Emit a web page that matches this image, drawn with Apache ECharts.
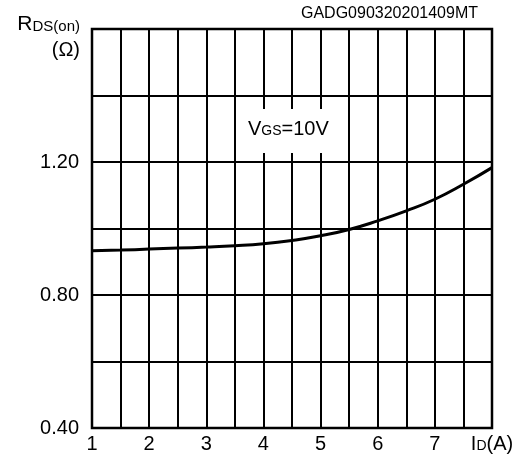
<!DOCTYPE html>
<html>
<head>
<meta charset="utf-8">
<script src="https://cdn.jsdelivr.net/npm/echarts@6/dist/echarts.min.js"></script>
<style>
html,body{margin:0;padding:0;background:#fff;}
#main{width:528px;height:458px;}
</style>
</head>
<body>
<div id="main"></div>
<script>
// ID (A)
var idValues = [1, 1.5, 2, 2.5, 3, 3.5, 4, 4.5, 5, 5.5, 6, 6.5, 7, 7.5, 8];
// RDS(on) (ohm)
var rdsValues = [0.933, 0.935, 0.938, 0.941, 0.944, 0.948, 0.954, 0.964, 0.978, 0.997, 1.023, 1.053, 1.088, 1.133, 1.183];
var xLabels = ['1', '2', '3', '4', '5', '6', '7'];
var yLabels = ['0.40', '0.80', '1.20'];

var font = 'Liberation Sans, Arial, sans-serif';
var chart = echarts.init(document.getElementById('main'));

var points = [];
for (var i = 0; i < idValues.length; i++) {
	points.push([idValues[i], rdsValues[i]]);
}

chart.setOption({
	animation: false,
	grid: {
		left: 92, top: 29, right: 36, bottom: 30,
		show: true, borderColor: '#000', borderWidth: 2.5, backgroundColor: 'transparent'
	},
	xAxis: {
		type: 'value', min: 1, max: 8, interval: 0.5,
		axisLine: {show: false},
		axisTick: {show: false},
		splitLine: {show: true, lineStyle: {color: '#000', width: 2}},
		axisLabel: {
			color: '#000', fontFamily: font, fontSize: 20, margin: 6,
			showMinLabel: true, showMaxLabel: true,
			formatter: function (v) {
				if (Math.abs(v - 8) < 1e-6) return '{b|I}{s|D}{b|(A)}';
				for (var k = 0; k < xLabels.length; k++) {
					if (Math.abs(v - Number(xLabels[k])) < 1e-6) return xLabels[k];
				}
				return '';
			},
			rich: {
				b: {fontSize: 20, fontFamily: font, color: '#000', verticalAlign: 'bottom'},
				s: {fontSize: 14, fontFamily: font, color: '#000', verticalAlign: 'bottom', padding: [0, 0, 1, 0]}
			}
		}
	},
	yAxis: {
		type: 'value', min: 0.4, max: 1.6, interval: 0.2,
		axisLine: {show: false},
		axisTick: {show: false},
		splitLine: {show: true, lineStyle: {color: '#000', width: 2}},
		axisLabel: {
			color: '#000', fontFamily: font, fontSize: 20, margin: 13,
			formatter: function (v) {
				for (var k = 0; k < yLabels.length; k++) {
					if (Math.abs(v - Number(yLabels[k])) < 1e-6) return yLabels[k];
				}
				return '';
			}
		}
	},
	graphic: [
		{type: 'rect', z: 50, shape: {x: 237, y: 109, width: 111, height: 44}, style: {fill: '#fff'}},
		{type: 'text', z: 51, left: 248, top: 119, style: {
			rich: {
				b: {fontSize: 20, fontFamily: font, fill: '#000', verticalAlign: 'bottom'},
				s: {fontSize: 14, fontFamily: font, fill: '#000', verticalAlign: 'bottom', padding: [0, 0, 1, 0]}
			},
			text: '{b|V}{s|GS}{b|=10V}'
		}},
		{type: 'text', z: 51, right: 448, top: 14, style: {
			rich: {
				b: {fontSize: 21, fontFamily: font, fill: '#000', verticalAlign: 'bottom'},
				s: {fontSize: 15, fontFamily: font, fill: '#000', verticalAlign: 'bottom', padding: [0, 0, 1, 0]}
			},
			text: '{b|R}{s|DS(on)}'
		}},
		{type: 'text', z: 51, right: 448, top: 40, style: {
			text: '(Ω)', fontSize: 20, fontFamily: font, fill: '#000'
		}},
		{type: 'text', z: 51, left: 301, top: 6, style: {
			text: 'GADG090320201409MT', fontSize: 16, fontFamily: font, fill: '#000'
		}}
	],
	series: [{
		type: 'line', data: points, smooth: true, symbol: 'none', z: 60,
		lineStyle: {color: '#000', width: 3}
	}]
});
</script>
</body>
</html>
